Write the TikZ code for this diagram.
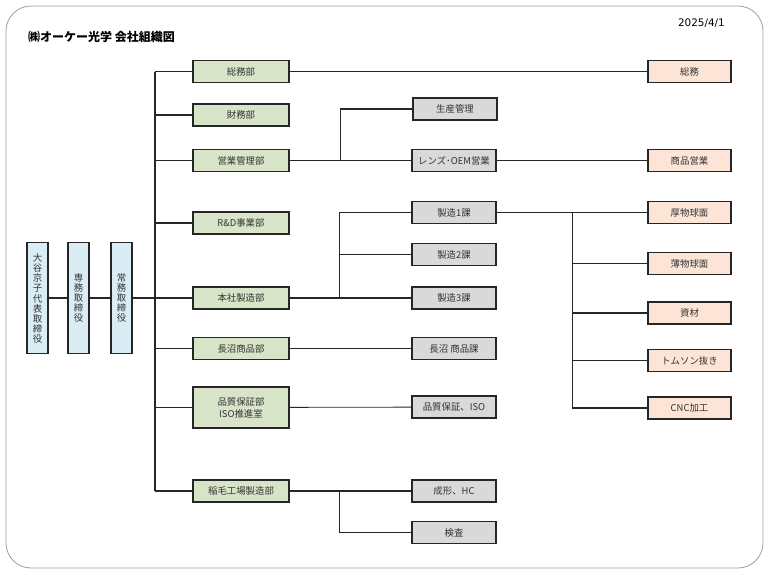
\documentclass[tikz,border=0pt]{standalone}
\usepackage{fontspec}
\setmainfont{Noto Sans CJK JP}
\newfontfamily\datefont{DejaVu Sans}
\definecolor{bluebox}{RGB}{218,236,244}
\definecolor{greenbox}{RGB}{216,228,200}
\definecolor{graybox}{RGB}{217,217,217}
\definecolor{peachbox}{RGB}{252,229,214}
\definecolor{inkline}{RGB}{38,38,38}
\begin{document}
\begin{tikzpicture}[x=1pt, y=-1pt]
\useasboundingbox (0,0) rectangle (768,576);

% frame, title, date
\draw[gray!75, line width=0.8pt, rounded corners=25pt] (6,6) rectangle (763,568);
\node (title) [anchor=west, inner sep=0pt] at (28,37) {\fontsize{12}{14}\selectfont\bfseries ㈱オーケー光学 会社組織図};
\node (date) [anchor=east, inner sep=0pt] at (725,23) {\datefont\fontsize{10.4}{12}\selectfont 2025/4/1};

% definitions
\tikzstyle{board} = [rectangle, minimum width=21pt, minimum height=111pt, inner sep=0pt, align=center, draw=inkline, line width=1.4pt, fill=bluebox, text=black!80, font=\fontsize{9.4}{10}\selectfont]

\tikzstyle{dept} = [rectangle, minimum width=96pt, minimum height=22pt, inner sep=0pt, align=center, draw=inkline, line width=1.4pt, fill=greenbox, text=black!80, font=\fontsize{9.4}{12}\selectfont]

\tikzstyle{section} = [rectangle, minimum width=84pt, minimum height=22pt, inner sep=0pt, align=center, draw=inkline, line width=1.4pt, fill=graybox, text=black!80, font=\fontsize{9.4}{12}\selectfont]

\tikzstyle{unit} = [rectangle, minimum width=83pt, minimum height=22pt, inner sep=0pt, align=center, draw=inkline, line width=1.4pt, fill=peachbox, text=black!80, font=\fontsize{9.4}{12}\selectfont]

\tikzstyle{line} = [draw=inkline, line width=1.2pt]
\tikzstyle{thinline} = [draw=inkline, line width=0.8pt]

% executives
\node (b0) [board] at (37.5,298) {大\\谷\\京\\子\\[1pt]代\\表\\取\\締\\役};
\node (b1) [board] at (78.5,298) {専\\務\\取\\締\\役};
\node (b2) [board] at (121.5,298) {常\\務\\取\\締\\役};

% departments
\node (g1) [dept] at (241,71.5) {総務部};
\node (g2) [dept] at (241,115) {財務部};
\node (g3) [dept] at (241,160.5) {営業管理部};
\node (g4) [dept] at (241,223) {R\&D事業部};
\node (g5) [dept] at (241,298) {本社製造部};
\node (g6) [dept] at (241,348.5) {長沼商品部};
\node (g7) [dept, minimum height=41pt] at (241,407.5) {品質保証部\\ISO推進室};
\node (g8) [dept] at (241,491) {稲毛工場製造部};

% sections
\node (s1) [section] at (455,109) {生産管理};
\node (s2) [section] at (454,160.5) {レンズ･OEM営業};
\node (s3) [section] at (454,212.5) {製造1課};
\node (s4) [section] at (454,254.5) {製造2課};
\node (s5) [section] at (454,298) {製造3課};
\node (s6) [section] at (454,348.5) {長沼 商品課};
\node (s7) [section] at (454,407) {品質保証、ISO};
\node (s8) [section] at (454,491) {成形、HC};
\node (s9) [section] at (454,532.5) {検査};

% units
\node (u1) [unit] at (689.5,71.5) {総務};
\node (u2) [unit] at (689.5,160.5) {商品営業};
\node (u3) [unit] at (689.5,212.5) {厚物球面};
\node (u4) [unit] at (689.5,263.5) {薄物球面};
\node (u5) [unit] at (689.5,313) {資材};
\node (u6) [unit] at (689.5,360.5) {トムソン抜き};
\node (u7) [unit] at (689.5,408) {CNC加工};

% trunk
\coordinate (ttop) at (155,71.5);
\coordinate (tbot) at (155,491);
\draw [line] (ttop) -- (tbot);

\draw [line] (b0) -- (b1);
\draw [line] (b1) -- (b2);
\draw [line] (b2.east) -- (b2.east -| ttop);

\draw [line] (g1.west) -- (g1.west -| ttop);
\draw [line] (g2.west) -- (g2.west -| ttop);
\draw [line] (g3.west) -- (g3.west -| ttop);
\draw [line] (g4.west) -- (g4.west -| ttop);
\draw [line] (g5.west) -- (g5.west -| ttop);
\draw [line] (g6.west) -- (g6.west -| ttop);
\draw [line] (g7.west) -- (g7.west -| ttop);
\draw [line] (g8.west) -- (g8.west -| ttop);

% branches
\draw [line] (g1) -- (u1);
\draw [line] (g3) -- (s2);
\draw [line] (s1.west) -- ++(-72,0) |- (g3.east);
\draw [line] (s2) -- (u2);

\draw [line] (g5) -- (s5);
\draw [line] (s3.west) -- ++(-72,0) |- (g5.east);
\draw [line] (s4.west) -- ++(-72,0);

\draw [line] (g6) -- (s6);
\draw [thinline] (g7) -- (s7);

\draw [line] (g8) -- (s8);
\draw [line] (s9.west) -- ++(-72,0) |- (g8.east);

% manufacturing units
\draw [line] (s3) -- (u3);
\draw [line] (u7.west) -- ++(-75,0) |- (s3.east);
\draw [thinline] (u4.west) -- ++(-75,0);
\draw [line] (u5.west) -- ++(-75,0);
\draw [thinline] (u6.west) -- ++(-75,0);

\end{tikzpicture}
\end{document}
